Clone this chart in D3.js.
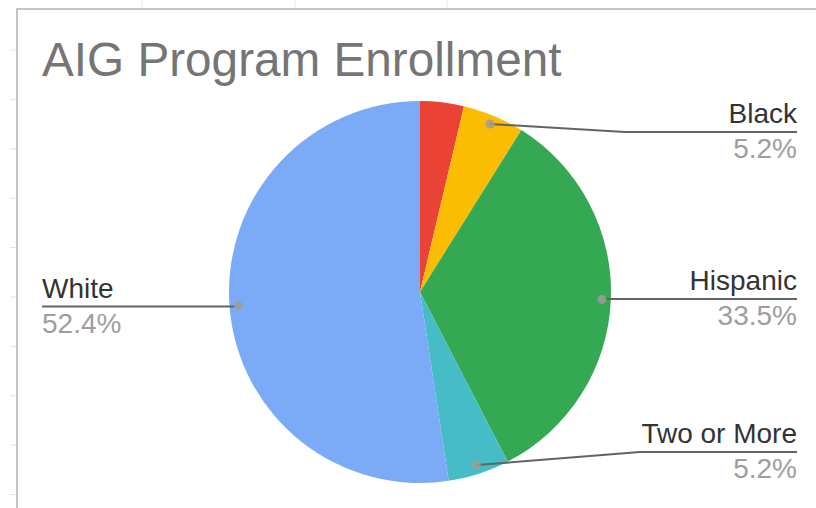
<!DOCTYPE html>
<html>
<head>
<meta charset="utf-8">
<script src="https://cdn.jsdelivr.net/npm/d3@7"></script>
<style>
  html, body { margin: 0; padding: 0; background: #fff; }
  svg { display: block; font-family: "Liberation Sans", Arial, sans-serif; }
</style>
</head>
<body>
<svg id="chart" width="816" height="508"></svg>
<script>
// ---- data ----
const title = "AIG Program Enrollment";
const categories = ["Other", "Black", "Hispanic", "Two or More", "White"];
const values = [3.7, 5.2, 33.5, 5.2, 52.4];
const percentLabels = ["3.7%", "5.2%", "33.5%", "5.2%", "52.4%"];
const colors = ["#ea4335", "#fbbc04", "#34a853", "#46bdc6", "#7baaf7"];
const showLabel = [false, true, true, true, true];

// ---- layout ----
const W = 816, H = 508;
const cx = 420, cy = 292, R = 191;
const labelLayout = {
  "Black":       { side: "right", lineY: 132, bendX: 625 },
  "Hispanic":    { side: "right", lineY: 299, bendX: 601 },
  "Two or More": { side: "right", lineY: 452, bendX: 640 },
  "White":       { side: "left",  lineY: 306.5, bendX: 237 }
};
const rightEdge = 797, leftEdge = 42;

const svg = d3.select("#chart");

// faint spreadsheet grid ticks behind frame
const gridG = svg.append("g");
d3.range(50, 508, 49.4).forEach(y => {
  gridG.append("line").attr("x1", 10).attr("x2", 17).attr("y1", y).attr("y2", y)
    .attr("stroke", "#e4e4e4").attr("stroke-width", 1);
});
[142, 295, 447].forEach(x => {
  gridG.append("line").attr("x1", x).attr("x2", x).attr("y1", 0).attr("y2", 9)
    .attr("stroke", "#e8e8e8").attr("stroke-width", 1);
});

// chart frame
svg.append("rect").attr("x", 17).attr("y", 9).attr("width", W).attr("height", H)
  .attr("fill", "#fff").attr("stroke", "#c4c4c4").attr("stroke-width", 2);

// title
svg.append("text").attr("x", 42).attr("y", 76)
  .attr("font-size", 47.7).attr("fill", "#757575").text(title);

// pie
const data = categories.map((c, i) => ({ cat: c, value: values[i], pct: percentLabels[i], color: colors[i], show: showLabel[i] }));
const pie = d3.pie().sort(null).value(d => d.value).startAngle(0).endAngle(2 * Math.PI);
const arcs = pie(data);
const arc = d3.arc().innerRadius(0).outerRadius(R);
const dotArc = d3.arc().innerRadius(182).outerRadius(182);

const g = svg.append("g").attr("transform", `translate(${cx},${cy})`);
g.selectAll("path.slice").data(arcs).enter().append("path")
  .attr("class", "slice")
  .attr("d", arc)
  .attr("fill", d => d.data.color);

// labels
const labG = svg.append("g");
arcs.filter(d => d.data.show).forEach(d => {
  const lay = labelLayout[d.data.cat];
  const [dx, dy] = dotArc.centroid(d);
  const px = cx + dx, py = cy + dy;
  const endX = lay.side === "right" ? rightEdge : leftEdge;
  const pts = [[px, py], [lay.bendX, lay.lineY], [endX, lay.lineY]];
  labG.append("path")
    .attr("d", d3.line()(pts))
    .attr("fill", "none").attr("stroke", "#636363").attr("stroke-width", 2);
  labG.append("circle").attr("cx", px).attr("cy", py).attr("r", 4.5)
    .attr("fill", "#9e9e9e").attr("fill-opacity", 0.85);
  const anchor = lay.side === "right" ? "end" : "start";
  labG.append("text").attr("x", endX).attr("y", lay.lineY - 9)
    .attr("text-anchor", anchor).attr("font-size", 28).attr("fill", "#333")
    .text(d.data.cat);
  labG.append("text").attr("x", endX).attr("y", lay.lineY + 26)
    .attr("text-anchor", anchor).attr("font-size", 28).attr("fill", "#9e9e9e")
    .text(d.data.pct);
});
</script>
</body>
</html>
